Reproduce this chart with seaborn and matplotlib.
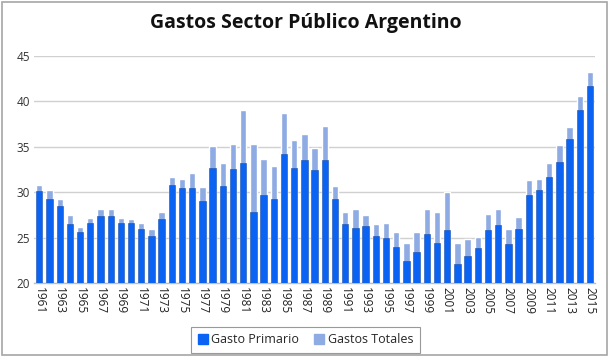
import matplotlib
matplotlib.use("Agg")
import matplotlib.pyplot as plt
import matplotlib.patches as mpatches
import seaborn as sns
import pandas as pd

years = list(range(1961, 2016))
gasto_primario = [30.1, 29.3, 28.5, 26.5, 25.6, 26.6, 27.4, 27.4, 26.6, 26.6,
                  25.9, 25.2, 27.0, 30.8, 30.5, 30.5, 29.0, 32.7, 30.7, 32.6,
                  33.2, 27.8, 29.7, 29.3, 34.2, 32.7, 33.5, 32.4, 33.5, 29.2,
                  26.5, 26.1, 26.3, 25.2, 25.0, 24.0, 22.4, 23.4, 25.4, 24.4,
                  25.8, 22.1, 23.0, 23.8, 25.8, 26.4, 24.3, 25.9, 29.7, 30.2,
                  31.7, 33.3, 35.9, 39.0, 41.7]
gastos_totales = [30.8, 30.2, 29.2, 27.5, 26.2, 27.2, 28.1, 28.1, 27.2, 27.1,
                  26.6, 26.0, 27.8, 31.7, 31.5, 32.1, 30.6, 35.1, 33.2, 35.3,
                  39.0, 35.3, 33.7, 32.9, 38.7, 35.8, 36.4, 34.9, 37.3, 30.7,
                  27.8, 28.1, 27.5, 26.5, 26.6, 25.6, 24.4, 25.6, 28.2, 27.8,
                  30.0, 24.4, 24.9, 25.1, 27.6, 28.1, 25.9, 27.3, 31.3, 31.4,
                  33.2, 35.2, 37.2, 40.6, 43.2]
title = "Gastos Sector Público Argentino"
label_primario = "Gasto Primario"
label_totales = "Gastos Totales"

df = pd.DataFrame({"year": [str(y) for y in years],
                   "primario": gasto_primario,
                   "totales": gastos_totales})

sns.set_theme(style="white")
plt.rcParams['font.family'] = ['Open Sans', 'DejaVu Sans']

c_dark = "#0A63F2"
c_light = "#8FABE3"

fig = plt.figure(figsize=(6.11, 3.59), dpi=100)
ax = fig.add_axes([0.0556, 0.2117, 0.918, 0.6323])

order = df["year"].tolist()
sns.barplot(data=df, x="year", y="totales", order=order, color=c_light,
            width=0.62, saturation=1, ax=ax, zorder=2)
sns.barplot(data=df, x="year", y="primario", order=order, color=c_dark,
            width=0.62, saturation=1, ax=ax, zorder=3,
            edgecolor="#1A4FA8", linewidth=0.4)

ax.set_ylim(20, 45)
ax.set_xlim(-0.52, len(years) - 0.52)
ax.set_yticks([20, 25, 30, 35, 40, 45])
ax.set_yticklabels(["20", "25", "30", "35", "40", "45"], fontsize=8.5, color="#333333")
ax.yaxis.grid(True, color="#D0D0D0", linewidth=1)
ax.set_axisbelow(True)
ax.set_xticks(range(len(years)))
ax.set_xticklabels([y if i % 2 == 0 else "" for i, y in enumerate(order)],
                   rotation=270, fontsize=8.5, color="#222222")
ax.tick_params(axis="both", length=0, pad=3)
ax.set_xlabel("")
ax.set_ylabel("")
for s in ["top", "right", "left"]:
    ax.spines[s].set_visible(False)
ax.spines["bottom"].set_color("#BFBFBF")
ax.spines["bottom"].set_linewidth(1)

fig.text(0.5, 0.935, title, ha="center", va="center", fontsize=14,
         fontweight="bold", color="#111111")

handles = [mpatches.Patch(color=c_dark, label=label_primario),
           mpatches.Patch(color=c_light, label=label_totales)]
leg = fig.legend(handles=handles, loc="center", bbox_to_anchor=(0.5, 0.053),
                 ncol=2, fontsize=9, frameon=True, fancybox=False,
                 handlelength=0.8, handleheight=0.8, handletextpad=0.3,
                 columnspacing=1.2, borderpad=0.5)
leg.get_frame().set_edgecolor("#808080")
leg.get_frame().set_linewidth(0.8)

border = mpatches.Rectangle((0.003, 0.01), 0.99, 0.985, transform=fig.transFigure,
                            fill=False, edgecolor="#A6A6A6", linewidth=1.2)
fig.patches.append(border)

fig.savefig("out.png", dpi=100)
